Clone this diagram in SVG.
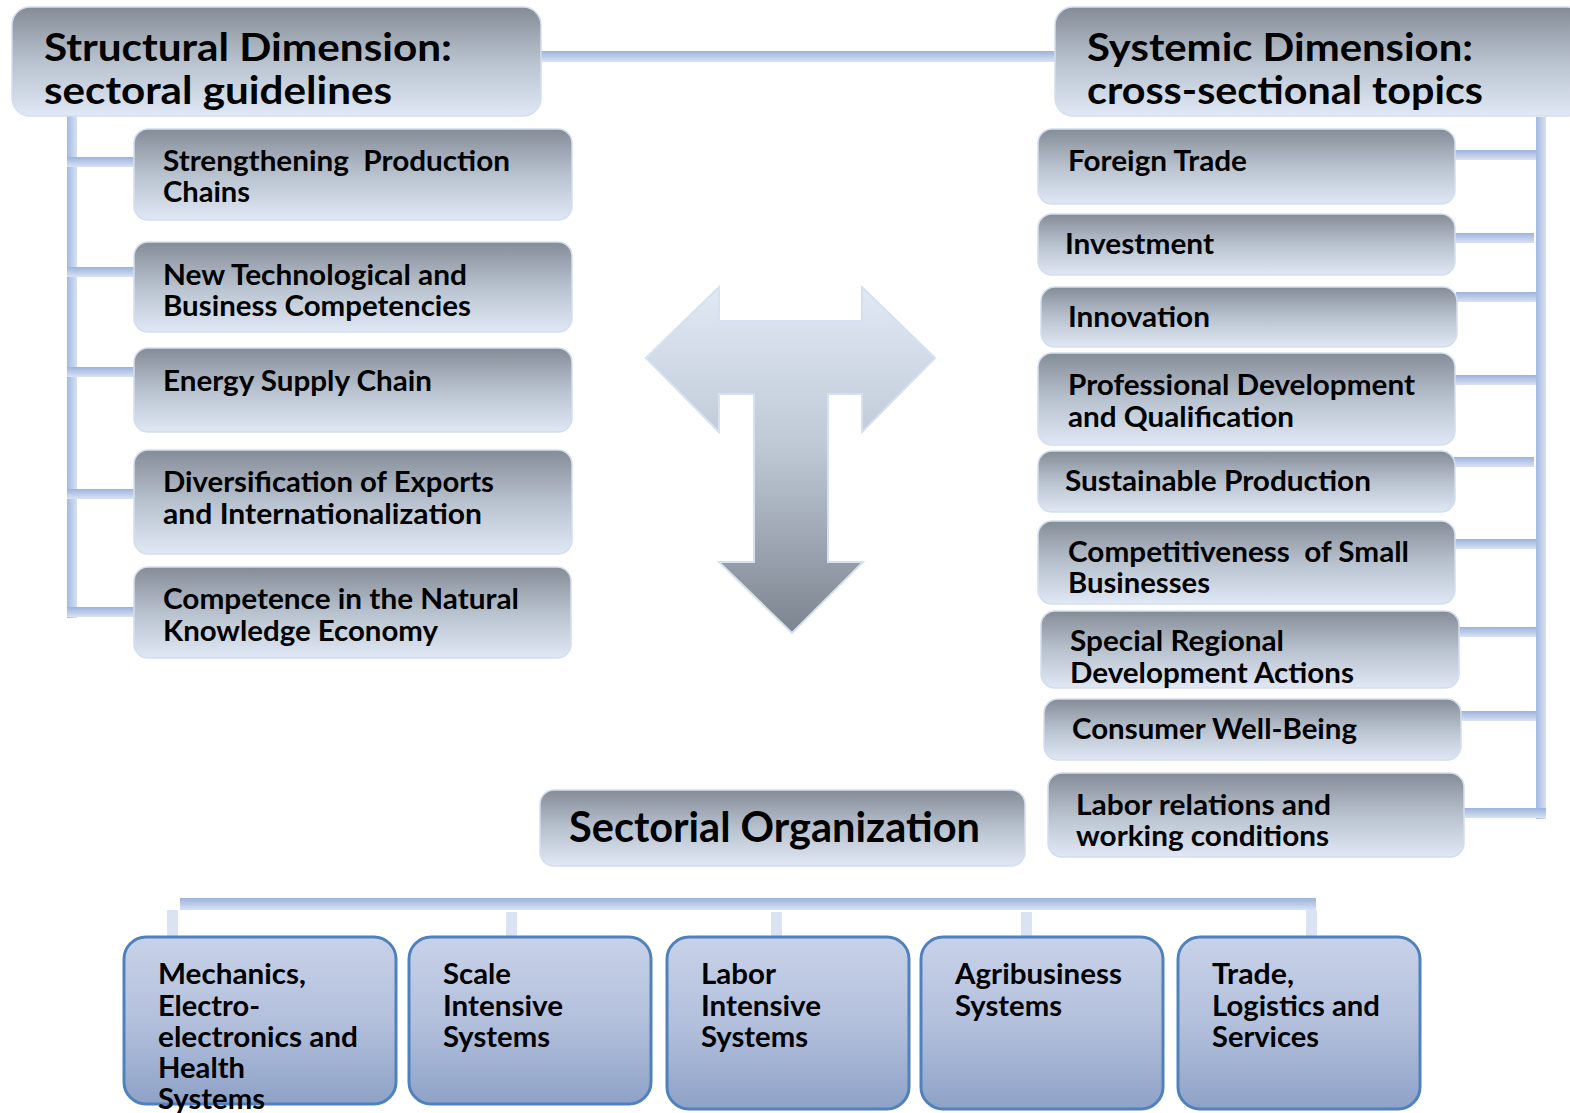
<svg xmlns="http://www.w3.org/2000/svg" width="1570" height="1113" viewBox="0 0 1570 1113">
  <defs>
    <linearGradient id="gBox" x1="0" y1="0" x2="0" y2="1">
      <stop offset="0" stop-color="#848c97"/>
      <stop offset="0.5" stop-color="#b8c2ce"/>
      <stop offset="1" stop-color="#dfe8f4"/>
    </linearGradient>
    <linearGradient id="gSector" x1="0" y1="0" x2="0" y2="1">
      <stop offset="0" stop-color="#c8d2e8"/>
      <stop offset="0.5" stop-color="#b3c0dc"/>
      <stop offset="1" stop-color="#8ea2c7"/>
    </linearGradient>
    <linearGradient id="gArrow" x1="0" y1="0" x2="0" y2="1">
      <stop offset="0" stop-color="#e0e9f4"/>
      <stop offset="0.45" stop-color="#c0cad7"/>
      <stop offset="1" stop-color="#7c848f"/>
    </linearGradient>
    <linearGradient id="gBarH" x1="0" y1="0" x2="0" y2="1">
      <stop offset="0" stop-color="#9cb3de"/>
      <stop offset="1" stop-color="#d8e2f2"/>
    </linearGradient>
    <linearGradient id="gBarV" x1="0" y1="0" x2="1" y2="0">
      <stop offset="0" stop-color="#a3bae2"/>
      <stop offset="1" stop-color="#d6e0f1"/>
    </linearGradient>
    <style>
      .box { fill: url(#gBox); stroke: #d3deee; stroke-width: 1.5; }
      .sector { fill: url(#gSector); stroke: #4f81bd; stroke-width: 3; }
      .barH { fill: url(#gBarH); }
      .barV { fill: url(#gBarV); }
      .drop { fill: #dae3f2; }
      text { font-family: Lato, "Open Sans", "Liberation Sans", sans-serif; font-weight: bold; fill: #000; }
      .hd { font-size: 39px; }
      .it { font-size: 28px; }
      .bt { font-size: 28px; }
      .so { font-size: 42px; }
    </style>
  </defs>

  <!-- connectors -->
  <g id="connectors">
    <!-- link between the two dimension headers -->
    <rect class="barH" x="540" y="51" width="518" height="11"/>
    <!-- structural dimension tree -->
    <rect class="barV" x="67" y="116" width="10" height="502"/>
    <rect class="barH" x="67" y="157" width="68" height="10"/>
    <rect class="barH" x="67" y="267" width="68" height="10"/>
    <rect class="barH" x="67" y="367" width="68" height="10"/>
    <rect class="barH" x="67" y="489" width="68" height="10"/>
    <rect class="barH" x="67" y="607" width="68" height="10"/>
    <!-- systemic dimension tree -->
    <rect class="barV" x="1536" y="117" width="10" height="702"/>
    <rect class="barH" x="1454" y="150" width="82" height="10"/>
    <rect class="barH" x="1454" y="233" width="80" height="10"/>
    <rect class="barH" x="1456" y="292" width="80" height="10"/>
    <rect class="barH" x="1454" y="375" width="82" height="10"/>
    <rect class="barH" x="1454" y="457" width="80" height="10"/>
    <rect class="barH" x="1454" y="539" width="82" height="10"/>
    <rect class="barH" x="1458" y="627" width="78" height="10"/>
    <rect class="barH" x="1460" y="711" width="76" height="10"/>
    <rect class="barH" x="1463" y="808" width="83" height="10"/>
    <!-- sectorial organization tree -->
    <rect class="barH" x="180" y="898" width="1136" height="12"/>
    <rect class="drop" x="167" y="910" width="11" height="28"/>
    <rect class="drop" x="506" y="912" width="11" height="26"/>
    <rect class="drop" x="771" y="912" width="11" height="26"/>
    <rect class="drop" x="1021" y="912" width="11" height="26"/>
    <rect class="drop" x="1306" y="910" width="11" height="28"/>
  </g>

  <!-- central T-shaped arrow -->
  <g id="t-arrow">
    <path d="M646,358 L719,287 L719,321 L862,321 L862,287 L935,358 L862,432 L862,394 L828,394 L828,562 L863,562 L792,633 L719,562 L754,562 L754,394 L719,394 L719,432 Z" fill="url(#gArrow)" stroke="#d5e0f0" stroke-width="2"/>
  </g>

  <!-- headers -->
  <g id="structural-dimension">
    <rect class="box" x="12" y="7" width="529" height="109" rx="18"/>
    <text class="hd" x="44" y="61" textLength="408" lengthAdjust="spacingAndGlyphs">Structural Dimension:</text>
    <text class="hd" x="44" y="104" textLength="348" lengthAdjust="spacingAndGlyphs">sectoral guidelines</text>
  </g>
  <g id="systemic-dimension">
    <rect class="box" x="1055" y="7" width="530" height="109" rx="18"/>
    <text class="hd" x="1087" y="61" textLength="386" lengthAdjust="spacingAndGlyphs">Systemic Dimension:</text>
    <text class="hd" x="1087" y="104" textLength="396" lengthAdjust="spacingAndGlyphs">cross-sectional topics</text>
  </g>

  <!-- sectoral guidelines -->
  <g id="production-chains">
    <rect class="box" x="134" y="129" width="438" height="91" rx="14"/>
    <text class="it" x="163" y="171" textLength="347" lengthAdjust="spacingAndGlyphs">Strengthening &#160;Production</text>
    <text class="it" x="163" y="202" textLength="87" lengthAdjust="spacingAndGlyphs">Chains</text>
  </g>
  <g id="tech-competencies">
    <rect class="box" x="134" y="242" width="438" height="90" rx="14"/>
    <text class="it" x="163" y="285" textLength="304" lengthAdjust="spacingAndGlyphs">New Technological and</text>
    <text class="it" x="163" y="316" textLength="308" lengthAdjust="spacingAndGlyphs">Business Competencies</text>
  </g>
  <g id="energy-supply">
    <rect class="box" x="134" y="348" width="438" height="84" rx="14"/>
    <text class="it" x="163" y="391" textLength="269" lengthAdjust="spacingAndGlyphs">Energy Supply Chain</text>
  </g>
  <g id="export-diversification">
    <rect class="box" x="134" y="450" width="438" height="104" rx="14"/>
    <text class="it" x="163" y="492" textLength="331" lengthAdjust="spacingAndGlyphs">Diversification of Exports</text>
    <text class="it" x="163" y="524" textLength="319" lengthAdjust="spacingAndGlyphs">and Internationalization</text>
  </g>
  <g id="natural-knowledge">
    <rect class="box" x="134" y="567" width="437" height="91" rx="14"/>
    <text class="it" x="163" y="609" textLength="356" lengthAdjust="spacingAndGlyphs">Competence in the Natural</text>
    <text class="it" x="163" y="641" textLength="275" lengthAdjust="spacingAndGlyphs">Knowledge Economy</text>
  </g>

  <!-- cross-sectional topics -->
  <g id="foreign-trade">
    <rect class="box" x="1038" y="129" width="417" height="75" rx="14"/>
    <text class="it" x="1068" y="171" textLength="179" lengthAdjust="spacingAndGlyphs">Foreign Trade</text>
  </g>
  <g id="investment">
    <rect class="box" x="1038" y="214" width="417" height="61" rx="14"/>
    <text class="it" x="1065" y="254" textLength="149" lengthAdjust="spacingAndGlyphs">Investment</text>
  </g>
  <g id="innovation">
    <rect class="box" x="1041" y="287" width="416" height="60" rx="14"/>
    <text class="it" x="1068" y="327" textLength="142" lengthAdjust="spacingAndGlyphs">Innovation</text>
  </g>
  <g id="professional-development">
    <rect class="box" x="1038" y="353" width="417" height="92" rx="14"/>
    <text class="it" x="1068" y="395" textLength="347" lengthAdjust="spacingAndGlyphs">Professional Development</text>
    <text class="it" x="1068" y="427" textLength="226" lengthAdjust="spacingAndGlyphs">and Qualification</text>
  </g>
  <g id="sustainable-production">
    <rect class="box" x="1038" y="451" width="417" height="61" rx="14"/>
    <text class="it" x="1065" y="491" textLength="306" lengthAdjust="spacingAndGlyphs">Sustainable Production</text>
  </g>
  <g id="small-businesses">
    <rect class="box" x="1038" y="521" width="417" height="83" rx="14"/>
    <text class="it" x="1068" y="562" textLength="341" lengthAdjust="spacingAndGlyphs">Competitiveness &#160;of Small</text>
    <text class="it" x="1068" y="593" textLength="142" lengthAdjust="spacingAndGlyphs">Businesses</text>
  </g>
  <g id="regional-development">
    <rect class="box" x="1041" y="611" width="418" height="77" rx="14"/>
    <text class="it" x="1070" y="651" textLength="214" lengthAdjust="spacingAndGlyphs">Special Regional</text>
    <text class="it" x="1070" y="683" textLength="284" lengthAdjust="spacingAndGlyphs">Development Actions</text>
  </g>
  <g id="consumer-well-being">
    <rect class="box" x="1044" y="699" width="417" height="61" rx="14"/>
    <text class="it" x="1072" y="739" textLength="285" lengthAdjust="spacingAndGlyphs">Consumer Well-Being</text>
  </g>
  <g id="labor-relations">
    <rect class="box" x="1048" y="773" width="416" height="84" rx="14"/>
    <text class="it" x="1076" y="815" textLength="255" lengthAdjust="spacingAndGlyphs">Labor relations and</text>
    <text class="it" x="1076" y="846" textLength="253" lengthAdjust="spacingAndGlyphs">working conditions</text>
  </g>

  <!-- sectorial organization -->
  <g id="sectorial-organization">
    <rect class="box" x="540" y="790" width="485" height="76" rx="14"/>
    <text class="so" x="569" y="842" textLength="411" lengthAdjust="spacingAndGlyphs">Sectorial Organization</text>
  </g>

  <g id="mechanics-systems">
    <rect class="sector" x="124" y="937" width="272" height="167" rx="22"/>
    <text class="bt" x="158" y="984" textLength="148" lengthAdjust="spacingAndGlyphs">Mechanics,</text>
    <text class="bt" x="158" y="1016" textLength="102" lengthAdjust="spacingAndGlyphs">Electro-</text>
    <text class="bt" x="158" y="1047" textLength="200" lengthAdjust="spacingAndGlyphs">electronics and</text>
    <text class="bt" x="158" y="1078" textLength="87" lengthAdjust="spacingAndGlyphs">Health</text>
    <text class="bt" x="158" y="1109" textLength="107" lengthAdjust="spacingAndGlyphs">Systems</text>
  </g>
  <g id="scale-intensive">
    <rect class="sector" x="409" y="937" width="242" height="167" rx="22"/>
    <text class="bt" x="443" y="984" textLength="68" lengthAdjust="spacingAndGlyphs">Scale</text>
    <text class="bt" x="443" y="1016" textLength="120" lengthAdjust="spacingAndGlyphs">Intensive</text>
    <text class="bt" x="443" y="1047" textLength="107" lengthAdjust="spacingAndGlyphs">Systems</text>
  </g>
  <g id="labor-intensive">
    <rect class="sector" x="667" y="937" width="242" height="172" rx="22"/>
    <text class="bt" x="701" y="984" textLength="75" lengthAdjust="spacingAndGlyphs">Labor</text>
    <text class="bt" x="701" y="1016" textLength="120" lengthAdjust="spacingAndGlyphs">Intensive</text>
    <text class="bt" x="701" y="1047" textLength="107" lengthAdjust="spacingAndGlyphs">Systems</text>
  </g>
  <g id="agribusiness">
    <rect class="sector" x="921" y="937" width="242" height="172" rx="22"/>
    <text class="bt" x="955" y="984" textLength="167" lengthAdjust="spacingAndGlyphs">Agribusiness</text>
    <text class="bt" x="955" y="1016" textLength="107" lengthAdjust="spacingAndGlyphs">Systems</text>
  </g>
  <g id="trade-logistics">
    <rect class="sector" x="1178" y="937" width="242" height="172" rx="22"/>
    <text class="bt" x="1212" y="984" textLength="82" lengthAdjust="spacingAndGlyphs">Trade,</text>
    <text class="bt" x="1212" y="1016" textLength="168" lengthAdjust="spacingAndGlyphs">Logistics and</text>
    <text class="bt" x="1212" y="1047" textLength="107" lengthAdjust="spacingAndGlyphs">Services</text>
  </g>
</svg>
